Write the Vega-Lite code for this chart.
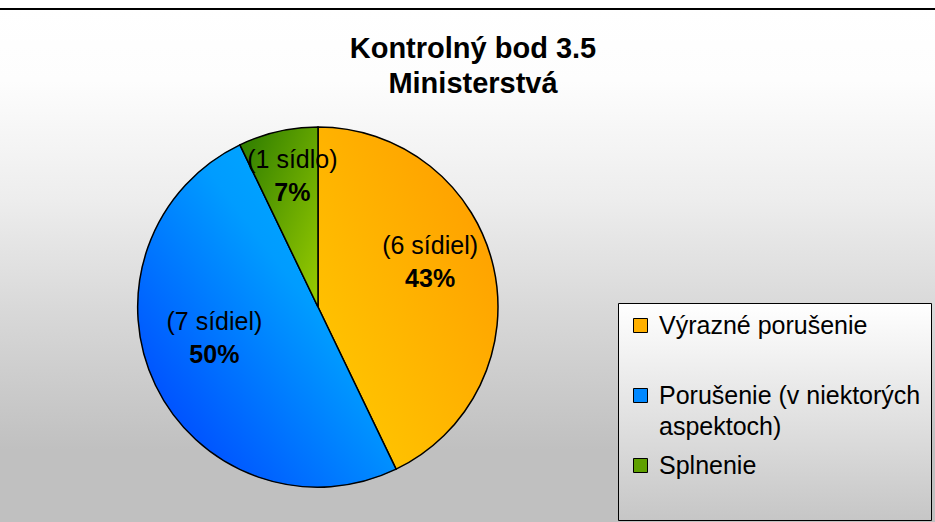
{
  "$schema": "https://vega.github.io/schema/vega-lite/v6.json",
  "width": 1240,
  "height": 596,
  "autosize": {"type": "none"},
  "padding": {"left": -302, "top": 9, "right": 0, "bottom": 0},
  "background": "white",
  "view": {
    "fill": {"gradient": "linear", "x1": 0, "y1": 0, "x2": 0, "y2": 1,
      "stops": [
        {"offset": 0, "color": "#FFFFFF"},
        {"offset": 0.12, "color": "#FDFDFD"},
        {"offset": 0.32, "color": "#EDEDED"},
        {"offset": 0.5, "color": "#D9D9D9"},
        {"offset": 0.74, "color": "#C0C0C0"},
        {"offset": 1, "color": "#C0C0C0"}
      ]},
    "stroke": "black",
    "strokeWidth": 2
  },
  "title": {
    "text": ["Kontrolný bod 3.5", "Ministerstvá"],
    "font": "Liberation Sans",
    "fontSize": 29,
    "fontWeight": "bold",
    "color": "black",
    "lineHeight": 35,
    "anchor": "middle",
    "dx": 155,
    "offset": -90
  },
  "data": {
    "values": [
      {"kategoria": "Výrazné porušenie", "pocet": 6, "popis": "(6 sídiel)", "podiel": "43%", "poradie": 1},
      {"kategoria": "Porušenie (v niektorých aspektoch)", "pocet": 7, "popis": "(7 sídiel)", "podiel": "50%", "poradie": 2},
      {"kategoria": "Splnenie", "pocet": 1, "popis": "(1 sídlo)", "podiel": "7%", "poradie": 3}
    ]
  },
  "encoding": {
    "theta": {"field": "pocet", "type": "quantitative", "stack": true},
    "order": {"field": "poradie", "type": "quantitative"}
  },
  "layer": [
    {
      "mark": {"type": "arc", "outerRadius": 180},
      "encoding": {
        "color": {
          "field": "kategoria",
          "type": "nominal",
          "scale": {
            "domain": ["Výrazné porušenie", "Porušenie (v niektorých aspektoch)", "Splnenie"],
            "range": ["#FFB000", "#0088FF", "#5FA000"]
          },
          "legend": {
            "orient": "none",
            "legendX": 920,
            "legendY": 294,
            "title": null,
            "padding": 10,
            "strokeColor": "black",
            "fillColor": {"value": {"gradient": "linear", "x1": 0, "y1": 0, "x2": 0, "y2": 1,
              "stops": [{"offset": 0, "color": "#FFFFFF"}, {"offset": 1, "color": "#C6C6C6"}]}},
            "labelFont": "Liberation Sans",
            "labelFontSize": 25,
            "labelColor": "black",
            "labelLimit": 400,
            "labelOffset": 6,
            "labelBaseline": "middle",
            "labelExpr": "datum.label === 'Porušenie (v niektorých aspektoch)' ? ['Porušenie (v niektorých', 'aspektoch)'] : datum.label === 'Splnenie' ? ['Splnenie', ' '] : datum.label",
            "symbolType": "square",
            "symbolSize": 196,
            "symbolStrokeColor": "black",
            "symbolStrokeWidth": 1,
            "gridAlign": "all",
            "rowPadding": 13
          }
        }
      }
    },
    {
      "mark": {"type": "arc", "outerRadius": 180, "stroke": "black", "strokeWidth": 1.5},
      "encoding": {
        "fill": {
          "condition": [
            {"test": "datum.poradie === 1", "value": {"gradient": "linear", "x1": 0, "y1": 1, "x2": 1, "y2": 0,
              "stops": [{"offset": 0, "color": "#FFCC00"}, {"offset": 1, "color": "#FF9900"}]}},
            {"test": "datum.poradie === 2", "value": {"gradient": "linear", "x1": 0, "y1": 1, "x2": 1, "y2": 0,
              "stops": [{"offset": 0, "color": "#0036FF"}, {"offset": 0.6, "color": "#009CFF"}, {"offset": 1, "color": "#00B4FF"}]}}
          ],
          "value": {"gradient": "linear", "x1": 0, "y1": 0, "x2": 1, "y2": 1,
            "stops": [{"offset": 0, "color": "#2A7A00"}, {"offset": 1, "color": "#9ACD00"}]}
        }
      }
    },
    {
      "mark": {"type": "text", "radius": 115, "dy": -35, "font": "Liberation Sans", "fontSize": 25, "color": "black"},
      "encoding": {"text": {"field": "popis", "type": "nominal"}}
    },
    {
      "mark": {"type": "text", "radius": 115, "dy": -2, "font": "Liberation Sans", "fontSize": 25, "fontWeight": "bold", "color": "black"},
      "encoding": {"text": {"field": "podiel", "type": "nominal"}}
    }
  ],
  "config": {
    "font": "Liberation Sans",
    "style": {"guide-label": {"lineHeight": 31}}
  }
}
